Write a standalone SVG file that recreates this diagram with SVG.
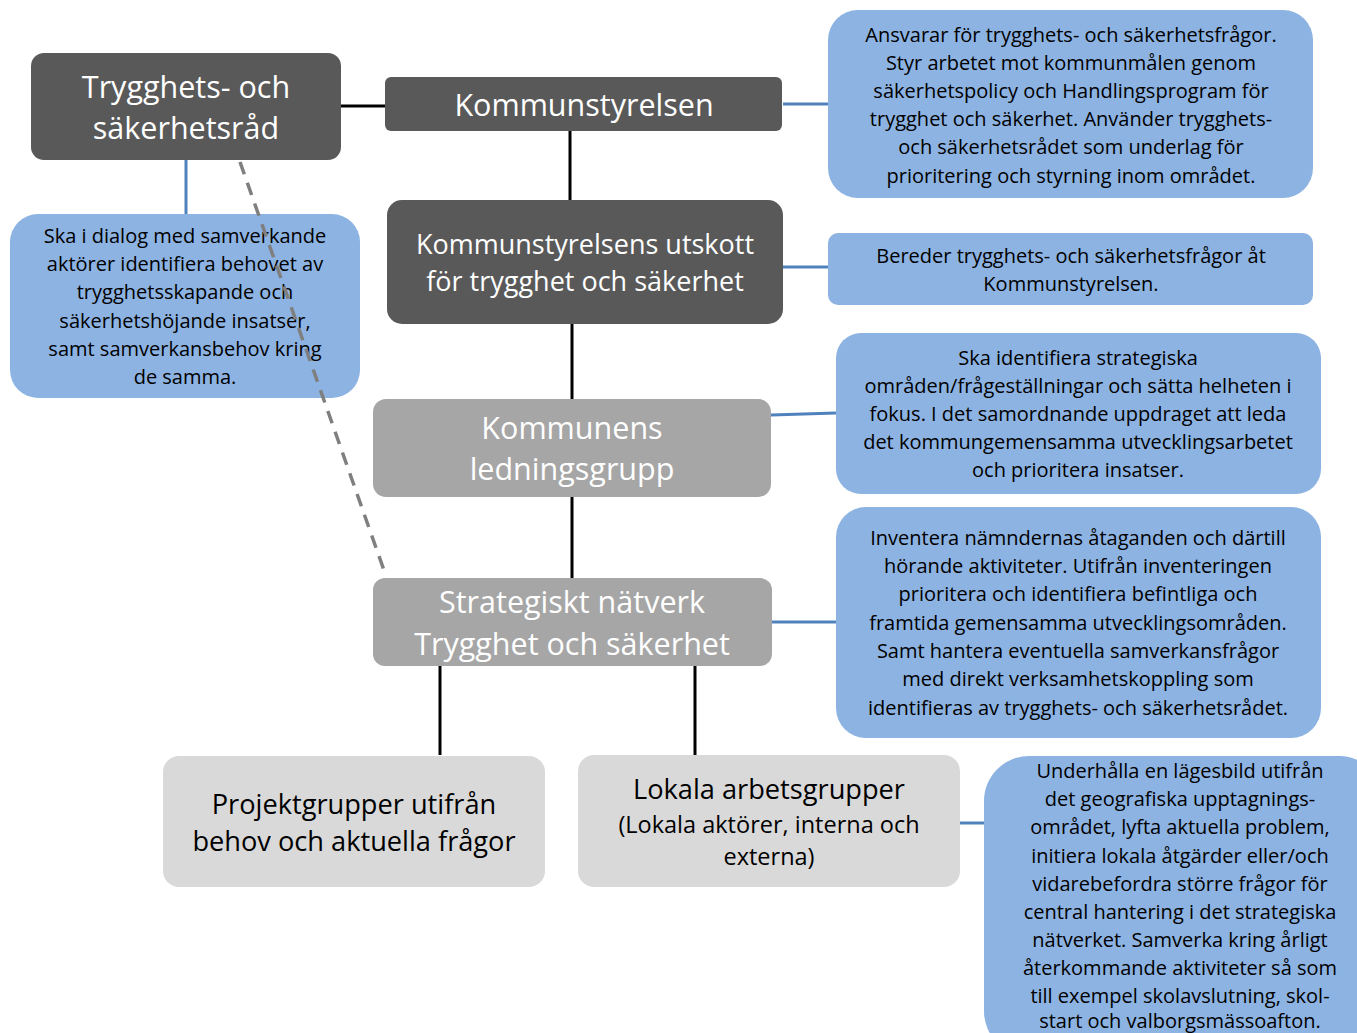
<svg xmlns="http://www.w3.org/2000/svg" width="1357" height="1033" viewBox="0 0 1357 1033">
<style>
.dark{fill:#595959}
.mid{fill:#a6a6a6}
.light{fill:#d9d9d9}
.blue{fill:#8db3e2}
.t{font-family:"Open Sans","Noto Sans","DejaVu Sans",sans-serif;text-anchor:middle}
.w{fill:#ffffff;font-size:30.5px}
.k{fill:#000000;font-size:27.2px}
.b{fill:#000000;font-size:20px}
.blk{stroke:#000;stroke-width:3;fill:none}
.bl{stroke:#4f81bd;stroke-width:3;fill:none}
.dash{stroke:#7f7f7f;stroke-width:3.5;stroke-dasharray:13 9;fill:none}
</style>
<rect width="1357" height="1033" fill="#ffffff"/>
<g id="connectors">
<line class="blk" x1="341" y1="106" x2="385" y2="106"/>
<line class="blk" x1="570" y1="131" x2="570" y2="200"/>
<line class="blk" x1="572" y1="324" x2="572" y2="400"/>
<line class="blk" x1="572" y1="497" x2="572" y2="578"/>
<line class="blk" x1="440" y1="666" x2="440" y2="755"/>
<line class="blk" x1="695" y1="666" x2="695" y2="755"/>
<line class="bl" x1="783" y1="104" x2="828" y2="104"/>
<line class="bl" x1="783" y1="267" x2="828" y2="267"/>
<line class="bl" x1="771" y1="415" x2="836" y2="413"/>
<line class="bl" x1="772" y1="622" x2="836" y2="622"/>
<line class="bl" x1="960" y1="823" x2="984" y2="823"/>
<line class="bl" x1="186" y1="160" x2="186" y2="214"/>
</g>
<g id="n-rad">
<rect class="dark" x="31" y="53" width="310" height="107" rx="13"/>
<text class="t w" x="186" y="98">Trygghets- och</text>
<text class="t w" x="186" y="139">säkerhetsråd</text>
</g>
<g id="n-ks">
<rect class="dark" x="385" y="77" width="397" height="54" rx="6"/>
<text class="t w" x="584" y="116">Kommunstyrelsen</text>
</g>
<g id="n-utskott">
<rect class="dark" x="387" y="200" width="396" height="124" rx="15"/>
<text class="t w" x="585" y="254" style="font-size:27px">Kommunstyrelsens utskott</text>
<text class="t w" x="585" y="291" style="font-size:27px">för trygghet och säkerhet</text>
</g>
<g id="n-ledning">
<rect class="mid" x="373" y="399" width="398" height="98" rx="13"/>
<text class="t w" x="572" y="439">Kommunens</text>
<text class="t w" x="572" y="480">ledningsgrupp</text>
</g>
<g id="n-natverk">
<rect class="mid" x="373" y="578" width="399" height="88" rx="12"/>
<text class="t w" x="572" y="613">Strategiskt nätverk</text>
<text class="t w" x="572" y="655">Trygghet och säkerhet</text>
</g>
<g id="n-projekt">
<rect class="light" x="163" y="756" width="382" height="131" rx="16"/>
<text class="t k" x="354" y="814">Projektgrupper utifrån</text>
<text class="t k" x="354" y="851">behov och aktuella frågor</text>
</g>
<g id="n-lokala">
<rect class="light" x="578" y="755" width="382" height="132" rx="16"/>
<text class="t k" x="769" y="799">Lokala arbetsgrupper</text>
<text class="t k" x="769" y="833" style="font-size:23.5px">(Lokala aktörer, interna och</text>
<text class="t k" x="769" y="865" style="font-size:23.5px">externa)</text>
</g>
<g id="d-ks">
<rect class="blue" x="828" y="10" width="485" height="188" rx="30"/>
<text class="t b" x="1071" y="42">Ansvarar för trygghets- och säkerhetsfrågor.</text>
<text class="t b" x="1071" y="70">Styr arbetet mot kommunmålen genom</text>
<text class="t b" x="1071" y="98">säkerhetspolicy och Handlingsprogram för</text>
<text class="t b" x="1071" y="126">trygghet och säkerhet. Använder trygghets-</text>
<text class="t b" x="1071" y="154">och säkerhetsrådet som underlag för</text>
<text class="t b" x="1071" y="183">prioritering och styrning inom området.</text>
</g>
<g id="d-utskott">
<rect class="blue" x="828" y="233" width="485" height="72" rx="10"/>
<text class="t b" x="1071" y="263">Bereder trygghets- och säkerhetsfrågor åt</text>
<text class="t b" x="1071" y="291">Kommunstyrelsen.</text>
</g>
<g id="d-ledning">
<rect class="blue" x="836" y="333" width="485" height="161" rx="25"/>
<text class="t b" x="1078" y="365">Ska identifiera strategiska</text>
<text class="t b" x="1078" y="393">områden/frågeställningar och sätta helheten i</text>
<text class="t b" x="1078" y="421">fokus. I det samordnande uppdraget att leda</text>
<text class="t b" x="1078" y="449">det kommungemensamma utvecklingsarbetet</text>
<text class="t b" x="1078" y="477">och prioritera insatser.</text>
</g>
<g id="d-natverk">
<rect class="blue" x="836" y="507" width="485" height="231" rx="30"/>
<text class="t b" x="1078" y="545">Inventera nämndernas åtaganden och därtill</text>
<text class="t b" x="1078" y="573">hörande aktiviteter. Utifrån inventeringen</text>
<text class="t b" x="1078" y="601">prioritera och identifiera befintliga och</text>
<text class="t b" x="1078" y="630">framtida gemensamma utvecklingsområden.</text>
<text class="t b" x="1078" y="658">Samt hantera eventuella samverkansfrågor</text>
<text class="t b" x="1078" y="686">med direkt verksamhetskoppling som</text>
<text class="t b" x="1078" y="715">identifieras av trygghets- och säkerhetsrådet.</text>
</g>
<g id="d-lokala">
<rect class="blue" x="984" y="756" width="400" height="300" rx="45"/>
<text class="t b" x="1180" y="778">Underhålla en lägesbild utifrån</text>
<text class="t b" x="1180" y="806">det geografiska upptagnings-</text>
<text class="t b" x="1180" y="834">området, lyfta aktuella problem,</text>
<text class="t b" x="1180" y="863">initiera lokala åtgärder eller/och</text>
<text class="t b" x="1180" y="891">vidarebefordra större frågor för</text>
<text class="t b" x="1180" y="919">central hantering i det strategiska</text>
<text class="t b" x="1180" y="947">nätverket. Samverka kring årligt</text>
<text class="t b" x="1180" y="975">återkommande aktiviteter så som</text>
<text class="t b" x="1180" y="1003">till exempel skolavslutning, skol-</text>
<text class="t b" x="1180" y="1028">start och valborgsmässoafton.</text>
</g>
<g id="d-rad">
<rect class="blue" x="10" y="214" width="350" height="184" rx="28"/>
<text class="t b" x="185" y="243">Ska i dialog med samverkande</text>
<text class="t b" x="185" y="271">aktörer identifiera behovet av</text>
<text class="t b" x="185" y="299">trygghetsskapande och</text>
<text class="t b" x="185" y="328">säkerhetshöjande insatser,</text>
<text class="t b" x="185" y="356">samt samverkansbehov kring</text>
<text class="t b" x="185" y="384">de samma.</text>
</g>
<g id="dashed-link">
<line class="dash" x1="240" y1="162" x2="386" y2="576"/>
</g>
</svg>
